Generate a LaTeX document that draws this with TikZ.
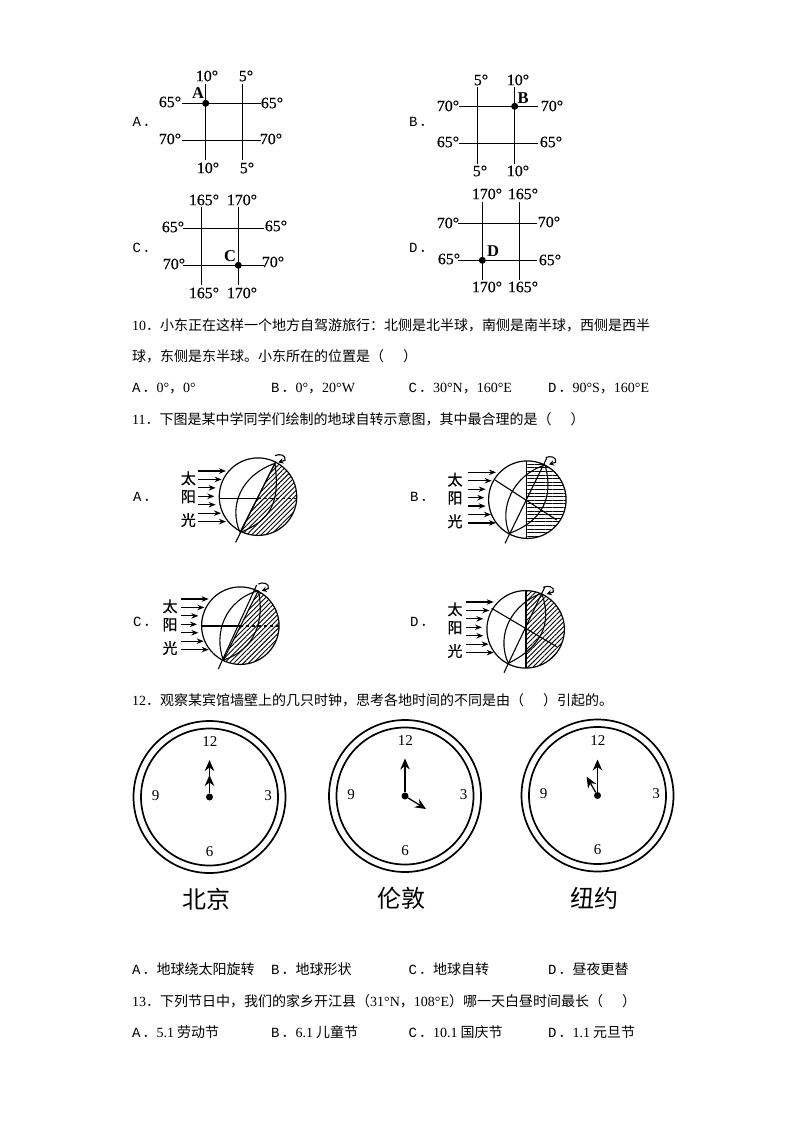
\documentclass[tikz,border=0pt]{standalone}
\usepackage{fontspec}
\setmainfont{Liberation Serif}
\newfontfamily\ltn{Liberation Serif}
\newfontfamily\degf[FakeBold=0.5]{Liberation Serif}
\newfontfamily\mon{Liberation Mono}
\newfontfamily\cjk{Noto Sans CJK SC}
\newfontfamily\cjkb[FakeBold=0.6]{Noto Sans CJK SC}
\usetikzlibrary{arrows.meta,patterns.meta}
\newcommand{\opl}[1]{{\mon #1}\hspace{2pt}．}
\tikzset{
  txt/.style={anchor=west,inner sep=0pt,text height=10.5pt,text depth=2.5pt,font=\fontsize{14}{16}\cjk},
  deg/.style={inner sep=0pt,font=\fontsize{15.8}{16}\degf},
  pt/.style={inner sep=0pt,font=\fontsize{16.5}{16}\ltn\bfseries},
  spot/.style={circle,fill=black,inner sep=0pt,minimum size=7pt},
  gridline/.style={line width=1pt},
  rim/.style={circle,draw,line width=1.7pt,inner sep=0pt},
  hub/.style={circle,fill=black,inner sep=0pt,minimum size=7pt},
  hand/.style={line width=1.3pt,-{Stealth[length=11pt,width=9.5pt]}},
  hournum/.style={inner sep=0pt,font=\fontsize{15}{15}\ltn},
  city/.style={inner sep=0pt,font=\fontsize{24}{24}\cjk},
  sun/.style={inner sep=0pt,font=\fontsize{15}{15}\cjkb},
  ray/.style={line width=1.2pt,-{Stealth[length=7pt,width=5.5pt]}},
  earth/.style={circle,draw,line width=1.2pt,inner sep=0pt,minimum size=77.5pt},
  globeline/.style={line width=1.1pt},
}
% grid: name, x1, x2, xleft, xright, y1, y2, ytop, ybottom
\newcommand{\latlon}[9]{
  \coordinate (#1-t1) at (#2,#8); \coordinate (#1-b1) at (#2,#9);
  \coordinate (#1-t2) at (#3,#8); \coordinate (#1-b2) at (#3,#9);
  \coordinate (#1-l1) at (#4,#6); \coordinate (#1-r1) at (#5,#6);
  \coordinate (#1-l2) at (#4,#7); \coordinate (#1-r2) at (#5,#7);
  \draw[gridline] (#1-t1) -- (#1-b1);
  \draw[gridline] (#1-t2) -- (#1-b2);
  \draw[gridline] (#1-l1) -- (#1-r1);
  \draw[gridline] (#1-l2) -- (#1-r2);
}
% clock: name, x, y
\newcommand{\clockface}[3]{
  \node[rim,minimum size=152pt] (#1-out) at (#2,#3) {};
  \node[rim,minimum size=137pt] (#1-in) at (#2,#3) {};
  \node[hub] (#1-hub) at (#2,#3) {};
  \node[hournum] (#1-n12) at ([shift={(0.3,-55)}]#2,#3) {12};
  \node[hournum] (#1-n3) at ([shift={(58.5,-1.5)}]#2,#3) {3};
  \node[hournum] (#1-n6) at ([shift={(0,54.5)}]#2,#3) {6};
  \node[hournum] (#1-n9) at ([shift={(-54,-1.5)}]#2,#3) {9};
}
% sun arrows, in zoomed units: name, x, y, label offset
\newcommand{\sunrays}[4]{
  \foreach \len [count=\i from 0] in {83,70,52,48,52,68,83} {
    \coordinate (#1-a\i) at (#2,#3+25.3*\i);
    \coordinate (#1-z\i) at (#2+\len,#3+25.3*\i);
    \draw[ray] (#1-a\i) -- (#1-z\i);
  }
  \node[sun] (#1-tai) at (#2+#4,#3+22) {太};
  \node[sun] (#1-yang) at (#2+#4,#3+77) {阳};
  \node[sun] (#1-guang) at (#2+#4,#3+147) {光};
}
\newcommand{\polearrow}[2]{
  \begin{scope}[shift={(#1,#2)}]
    \draw[line width=1.1pt,-{Stealth[length=5pt,width=5.5pt]}] (0,0) .. controls (14,-7) and (34,-2) .. (30,14) -- (10,20);
  \end{scope}
}

\begin{document}
\begin{tikzpicture}[x=1pt,y=-1pt]
  \useasboundingbox (0,0) rectangle (794,1123);

  % four grids
  \latlon{ga}{205.7}{242.7}{181.5}{261}{103.3}{140.3}{84}{160}
  \node[spot] (ga-spot) at (205.7,103.3) {};
  \node[pt] (ga-pt) at (198,93) {A};
  \node[txt] (ga-opt) at (132.5,123) {\opl{A}};
  \node[deg] (ga-n1) at (207,76) {10°};
  \node[deg] (ga-n2) at (246,76) {5°};
  \node[deg] (ga-s1) at (208,168) {10°};
  \node[deg] (ga-s2) at (247,168) {5°};
  \node[deg] (ga-w1) at (170,102) {65°};
  \node[deg] (ga-w2) at (170,139) {70°};
  \node[deg] (ga-e1) at (272,103) {65°};
  \node[deg] (ga-e2) at (271,139) {70°};

  \latlon{gb}{477.7}{514.7}{459}{538}{106.3}{143.3}{87}{164}
  \node[spot] (gb-spot) at (514.7,106.3) {};
  \node[pt] (gb-pt) at (523,98) {B};
  \node[txt] (gb-opt) at (409,123) {\opl{B}};
  \node[deg] (gb-n1) at (481,80) {5°};
  \node[deg] (gb-n2) at (518,80) {10°};
  \node[deg] (gb-s1) at (480,171) {5°};
  \node[deg] (gb-s2) at (518,171) {10°};
  \node[deg] (gb-w1) at (448,106) {70°};
  \node[deg] (gb-w2) at (448,142) {65°};
  \node[deg] (gb-e1) at (552,106) {70°};
  \node[deg] (gb-e2) at (551,142) {65°};

  \latlon{gc}{201.7}{238.3}{183}{264}{228.3}{265.3}{207}{285}
  \node[spot] (gc-spot) at (238.3,265.3) {};
  \node[pt] (gc-pt) at (230,256) {C};
  \node[txt] (gc-opt) at (132.5,248) {\opl{C}};
  \node[deg] (gc-n1) at (204,200) {165°};
  \node[deg] (gc-n2) at (242,200) {170°};
  \node[deg] (gc-s1) at (204,293) {165°};
  \node[deg] (gc-s2) at (242,293) {170°};
  \node[deg] (gc-w1) at (173,227) {65°};
  \node[deg] (gc-w2) at (174,264) {70°};
  \node[deg] (gc-e1) at (276,226) {65°};
  \node[deg] (gc-e2) at (273,262) {70°};

  \latlon{gd}{482.3}{519.3}{458}{537}{223.3}{260.3}{202}{280}
  \node[spot] (gd-spot) at (482.3,260.3) {};
  \node[pt] (gd-pt) at (493,251) {D};
  \node[txt] (gd-opt) at (409,248) {\opl{D}};
  \node[deg] (gd-n1) at (487,194) {170°};
  \node[deg] (gd-n2) at (523,194) {165°};
  \node[deg] (gd-s1) at (487,287) {170°};
  \node[deg] (gd-s2) at (523,287) {165°};
  \node[deg] (gd-w1) at (448,223) {70°};
  \node[deg] (gd-w2) at (449,259) {65°};
  \node[deg] (gd-e1) at (549,222) {70°};
  \node[deg] (gd-e2) at (550,260) {65°};

  % question 10 and 11
  \node[txt] (q10) at (132,326) {{\ltn 10}．小东正在这样一个地方自驾游旅行：北侧是北半球，南侧是南半球，西侧是西半};
  \node[txt] (q10b) at (132,357) {球，东侧是东半球。小东所在的位置是（\hspace{19pt}）};
  \node[txt] (q10a) at (132,388.5) {\opl{A}{\ltn 0°}，{\ltn 0°}};
  \node[txt] (q10c) at (271,388.5) {\opl{B}{\ltn 0°}，{\ltn 20°W}};
  \node[txt] (q10d) at (408.5,388.5) {\opl{C}{\ltn 30°N}，{\ltn 160°E}};
  \node[txt] (q10e) at (548,388.5) {\opl{D}{\ltn 90°S}，{\ltn 160°E}};
  \node[txt] (q11) at (132,420) {{\ltn 11}．下图是某中学同学们绘制的地球自转示意图，其中最合理的是（\hspace{19pt}）};

  % globe A
  \begin{scope}[shift={(125,445)},scale=1/3]
    \node[txt] (ea-opt) at (24,157) {\opl{A}};
    \node[earth] (ea) at (399,155) {};
    \begin{scope}
      \clip (399,155) circle (116);
      \fill[pattern={Lines[angle=45,distance=3.4pt,line width=0.9pt]}] (450,55) -- (345,262) -- (460,320) -- (560,200) -- (520,20) -- cycle;
    \end{scope}
    \coordinate (ea-np) at (450,55);
    \coordinate (ea-sp) at (345,262);
    \coordinate (ea-top) at (452,50);
    \coordinate (ea-bot) at (332,292);
    \coordinate (ea-mid) at (398,160);
    \draw[globeline] (ea-np) -- (ea-sp);
    \draw[globeline] (ea-top) -- (ea-bot);
    \draw[globeline] (ea.west |- ea-mid) -- (ea-mid);
    \draw[globeline,dashed] (ea-mid) -- (ea.east |- ea-mid);
    \draw[globeline] (ea-np) .. controls (350,90) and (310,180) .. (ea-sp);
    \draw[globeline] (ea-np) .. controls (460,140) and (460,220) .. (ea-sp);
    \polearrow{450}{32}
    \sunrays{sa}{220}{78}{-30}
  \end{scope}

  % globe B
  \begin{scope}[shift={(400,445)},scale=1/3]
    \node[txt] (eb-opt) at (30,157) {\opl{B}};
    \node[earth] (eb) at (382,164) {};
    \begin{scope}
      \clip (382,164) circle (116);
      \fill[pattern={Lines[angle=0,distance=3.6pt,line width=0.9pt]}] (380,20) rectangle (520,300);
    \end{scope}
    \coordinate (eb-np) at (435,60);
    \coordinate (eb-sp) at (328,265);
    \coordinate (eb-top) at (440,40);
    \coordinate (eb-bot) at (315,295);
    \coordinate (eb-t1) at (285,105);
    \coordinate (eb-t2) at (470,225);
    \draw[globeline] (380,48) -- (380,280);
    \draw[globeline] (eb-top) -- (eb-bot);
    \draw[globeline] (eb-t1) -- (eb-t2);
    \draw[globeline] (eb-np) .. controls (340,90) and (295,190) .. (eb-sp);
    \draw[globeline] (eb-np) .. controls (455,130) and (450,220) .. (eb-sp);
    \polearrow{437}{38}
    \sunrays{sb}{205}{82}{-40}
  \end{scope}

  % globe C
  \begin{scope}[shift={(125,570)},scale=1/3]
    \node[txt] (ec-opt) at (24,157) {\opl{C}};
    \node[earth] (ec) at (346,167) {};
    \begin{scope}
      \clip (346,167) circle (116);
      \fill[pattern={Lines[angle=45,distance=3.4pt,line width=0.9pt]}] (400,60) -- (295,270) -- (400,320) -- (500,200) -- (470,20) -- cycle;
    \end{scope}
    \coordinate (ec-np) at (400,62);
    \coordinate (ec-sp) at (295,270);
    \coordinate (ec-top) at (395,45);
    \coordinate (ec-bot) at (280,297);
    \coordinate (ec-mid) at (345,168);
    \draw[globeline] (ec-np) -- (ec-sp);
    \draw[globeline] (ec-top) -- (ec-bot);
    \draw[globeline] (ec.west |- ec-mid) -- (ec-mid);
    \draw[globeline,dashed] (ec-mid) -- (ec.east |- ec-mid);
    \draw[globeline] (ec-np) .. controls (300,90) and (265,190) .. (ec-sp);
    \draw[globeline] (ec-np) .. controls (420,150) and (390,240) .. (ec-sp);
    \polearrow{400}{42}
    \sunrays{sc}{168}{87}{-33}
  \end{scope}

  % globe D
  \begin{scope}[shift={(400,570)},scale=1/3]
    \node[txt] (ed-opt) at (30,157) {\opl{D}};
    \node[earth] (ed) at (377,178) {};
    \begin{scope}
      \clip (377,178) circle (116);
      \fill[pattern={Lines[angle=45,distance=3.4pt,line width=0.9pt]}] (378,30) rectangle (520,310);
    \end{scope}
    \coordinate (ed-np) at (425,70);
    \coordinate (ed-sp) at (325,280);
    \coordinate (ed-top) at (435,50);
    \coordinate (ed-bot) at (312,308);
    \coordinate (ed-t1) at (275,115);
    \coordinate (ed-t2) at (470,230);
    \draw[globeline] (378,62) -- (378,294);
    \draw[globeline] (ed-top) -- (ed-bot);
    \draw[globeline] (ed-t1) -- (ed-t2);
    \draw[globeline] (ed-np) .. controls (340,100) and (285,190) .. (ed-sp);
    \draw[globeline] (ed-np) .. controls (450,140) and (445,220) .. (ed-sp);
    \polearrow{430}{52}
    \sunrays{sd}{198}{96}{-33}
  \end{scope}

  % question 12 with clocks
  \node[txt] (q12) at (132,701) {{\ltn 12}．观察某宾馆墙壁上的几只时钟，思考各地时间的不同是由（\hspace{19pt}）引起的。};

  \clockface{bj}{209.5}{797}
  \coordinate (bj-m) at (209.5,760);
  \coordinate (bj-s) at (209.5,775);
  \draw[hand] (bj-hub) -- (bj-m);
  \draw[hand] (bj-hub) -- (bj-s);
  \node[city] (bj-name) at (206.7,899) {北京};

  \clockface{ld}{405}{796}
  \coordinate (ld-m) at (405,758.5);
  \coordinate (ld-s) at (426,809);
  \draw[hand] (ld-hub) -- (ld-m);
  \draw[hand] (ld-hub) -- (ld-s);
  \node[city] (ld-name) at (401.7,898) {伦敦};

  \clockface{ny}{597.5}{795.5}
  \coordinate (ny-m) at (597.5,759.5);
  \coordinate (ny-s) at (586.7,776.7);
  \draw[hand] (ny-hub) -- (ny-m);
  \draw[hand] (ny-hub) -- (ny-s);
  \node[city] (ny-name) at (594,898) {纽约};

  % remaining options
  \node[txt] (q12a) at (132,970.5) {\opl{A}地球绕太阳旋转};
  \node[txt] (q12b) at (271,970.5) {\opl{B}地球形状};
  \node[txt] (q12c) at (408.5,970.5) {\opl{C}地球自转};
  \node[txt] (q12d) at (548,970.5) {\opl{D}昼夜更替};
  \node[txt] (q13) at (132,1002) {{\ltn 13}．下列节日中，我们的家乡开江县（{\ltn 31°N}，{\ltn 108°E}）哪一天白昼时间最长（\hspace{19pt}）};
  \node[txt] (q13a) at (132,1033) {\opl{A}{\ltn 5.1} 劳动节};
  \node[txt] (q13b) at (271,1033) {\opl{B}{\ltn 6.1} 儿童节};
  \node[txt] (q13c) at (408.5,1033) {\opl{C}{\ltn 10.1} 国庆节};
  \node[txt] (q13d) at (548,1033) {\opl{D}{\ltn 1.1} 元旦节};
\end{tikzpicture}
\end{document}
